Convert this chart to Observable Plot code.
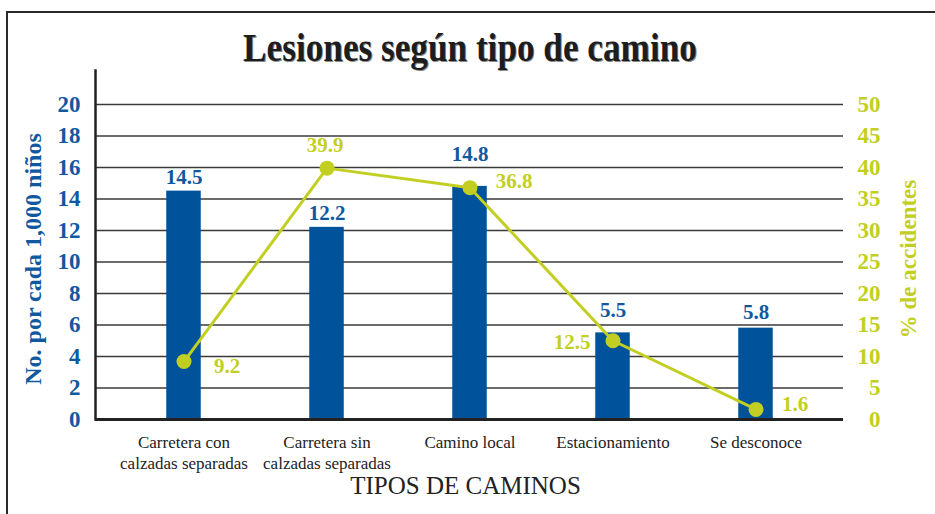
<!DOCTYPE html>
<html>
<head>
<meta charset="utf-8">
<script src="https://cdn.jsdelivr.net/npm/d3@7"></script>
<script src="https://cdn.jsdelivr.net/npm/@observablehq/plot@0.6"></script>
<style>
  html, body { margin: 0; padding: 0; background: #fff; overflow: hidden; }
  #wrap { position: relative; width: 935px; height: 514px; }
  #chart { position: absolute; left: 0; top: 0; }
  #border { position: absolute; left: 6px; top: 11px; width: 960px; height: 540px;
    border-left: 2px solid #2a2a2a; border-top: 2px solid #2a2a2a; box-sizing: border-box; }
  #title { position: absolute; left: 5px; top: 28px; width: 930px; text-align: center;
    font-family: "Liberation Serif", serif; font-weight: bold; font-size: 40px; line-height: 40px;
    color: #1d1d1d; transform: scaleX(0.88); text-shadow: 1px 1px 0 #8a8a8a; }
</style>
</head>
<body>
<div id="wrap">
  <div id="chart"></div>
  <div id="border"></div>
  <div id="title">Lesiones según tipo de camino</div>
</div>
<script>
// ---- data ----
const categories = [
  "Carretera con\ncalzadas separadas",
  "Carretera sin\ncalzadas separadas",
  "Camino local",
  "Estacionamiento",
  "Se desconoce"
];
const injuriesPer1000 = [14.5, 12.2, 14.8, 5.5, 5.8];   // left axis (bars)
const pctAccidents = [9.2, 39.9, 36.8, 12.5, 1.6];      // right axis (line)
const leftTicks = [0, 2, 4, 6, 8, 10, 12, 14, 16, 18, 20];
const rightTicks = [0, 5, 10, 15, 20, 25, 30, 35, 40, 45, 50];
const leftTitle = "No. por cada 1,000 niños";
const rightTitle = "% de accidentes";
const xTitle = "TIPOS DE CAMINOS";

// ---- styling / layout ----
const BLUE = "#00529b";
const BLUE_TEXT = "#11589f";
const GREEN = "#c2cf22";
const GRID = "#3a3a3a";
const RATIO = 20 / 50; // right-axis value -> left-axis units
const greenLabelOffsets = [[43, 5], [-2, -23], [44, -6], [-41, 2], [39, -5]];
const barLabelDy = [-7, -7, -25, -16, -9];

const bars = categories.map((c, i) => ({cat: c, val: injuriesPer1000[i]}));
const pts = categories.map((c, i) => ({cat: c, pct: pctAccidents[i]}));

const serif = "Liberation Serif, Times New Roman, serif";

const chart = Plot.plot({
  width: 935,
  height: 514,
  marginLeft: 95,
  marginRight: 92,
  marginTop: 70,
  marginBottom: 95,
  style: {fontFamily: serif, background: "transparent", overflow: "visible"},
  x: {domain: categories, range: [110.75, 828.25], padding: 0, label: null},
  y: {domain: [0, 349 / 15.75], label: null},
  marks: [
    Plot.ruleY(leftTicks, {stroke: GRID, strokeWidth: 1.7}),
    Plot.barY(bars, {x: "cat", y: "val", fill: BLUE, insetLeft: 54.25, insetRight: 54.25}),
    Plot.ruleY([0], {stroke: "#222", strokeWidth: 3}),
    Plot.frame({anchor: "left", stroke: "#222", strokeWidth: 2.5}),
    Plot.axisY(leftTicks, {anchor: "left", tickSize: 0, tickPadding: 15, fontSize: 23, fontWeight: "bold",
      fill: BLUE_TEXT, label: null, fontFamily: serif}),
    Plot.text(rightTicks, {y: d => d * RATIO, text: d => String(d), frameAnchor: "right", dx: 37,
      textAnchor: "end", fontSize: 23, fontWeight: "bold", fill: GREEN, fontFamily: serif}),
    Plot.axisX({tickSize: 0, tickPadding: 13, fontSize: 17, lineHeight: 1.25, fill: "#222",
      label: null, fontFamily: serif}),
    ...bars.map((b, i) => Plot.text([b], {x: "cat", y: "val", text: d => d.val.toFixed(1),
      lineAnchor: "bottom", dy: barLabelDy[i], fontSize: 21, fontWeight: "bold", fill: BLUE_TEXT,
      fontFamily: serif})),
    Plot.line(pts, {x: "cat", y: d => d.pct * RATIO, stroke: GREEN, strokeWidth: 3}),
    Plot.dot(pts, {x: "cat", y: d => d.pct * RATIO, r: 7.5, fill: GREEN, stroke: null}),
    ...pts.map((p, i) => Plot.text([p], {x: "cat", y: d => d.pct * RATIO, text: d => d.pct.toFixed(1),
      dx: greenLabelOffsets[i][0], dy: greenLabelOffsets[i][1], fontSize: 21, fontWeight: "bold",
      fill: GREEN, fontFamily: serif})),
    Plot.text([leftTitle], {frameAnchor: "left", textAnchor: "middle", rotate: -90, dx: -62, dy: 14,
      fontSize: 24, fontWeight: "bold", fill: BLUE_TEXT, fontFamily: serif}),
    Plot.text([rightTitle], {frameAnchor: "right", textAnchor: "middle", rotate: -90, dx: 65, dy: 14,
      fontSize: 23, fontWeight: "bold", fill: GREEN, fontFamily: serif}),
    Plot.text([xTitle], {frameAnchor: "bottom", dx: -4, dy: 74, fontSize: 25, fill: "#222",
      fontFamily: serif})
  ]
});
document.getElementById("chart").appendChild(chart);
</script>
</body>
</html>
